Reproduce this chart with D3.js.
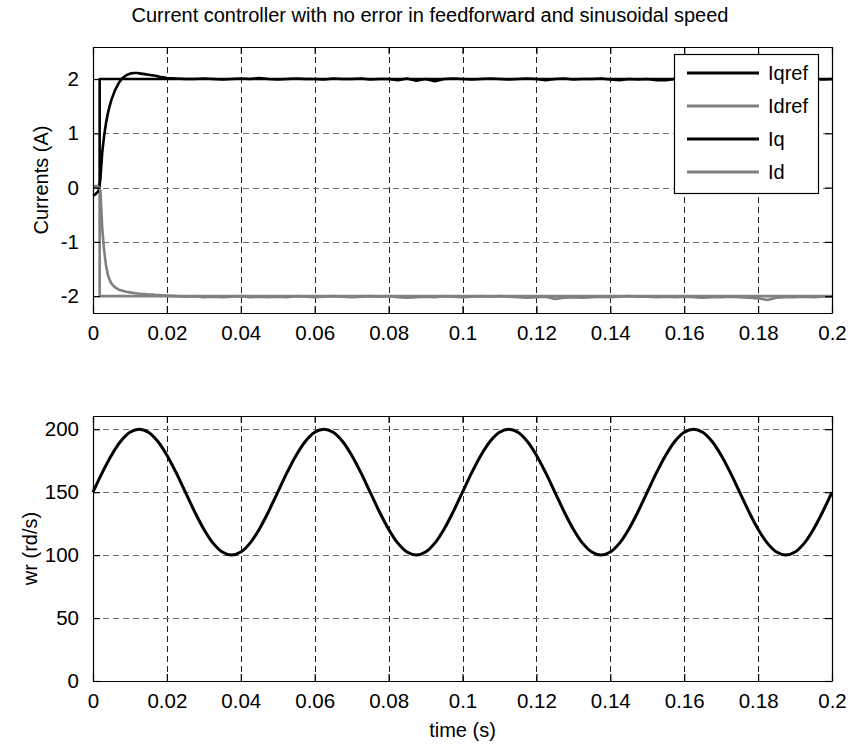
<!DOCTYPE html>
<html>
<head>
<meta charset="utf-8">
<script src="https://cdn.jsdelivr.net/npm/d3@7"></script>
<style>
  html, body { margin: 0; padding: 0; background: #fff; }
  svg { display: block; }
  text { font-family: "Liberation Sans", Arial, Helvetica, sans-serif; fill: #000; }
</style>
</head>
<body>
<svg id="chart" width="852" height="745"></svg>
<script>
// ---------------- DATA ----------------
const titleText = "Current controller with no error in feedforward and sinusoidal speed";
const xTicks = [0, 0.02, 0.04, 0.06, 0.08, 0.1, 0.12, 0.14, 0.16, 0.18, 0.2];
const xTickLabels = ["0", "0.02", "0.04", "0.06", "0.08", "0.1", "0.12", "0.14", "0.16", "0.18", "0.2"];
const yTicksTop = [-2, -1, 0, 1, 2];
const yTickLabelsTop = ["-2", "-1", "0", "1", "2"];
const yTicksBottom = [0, 50, 100, 150, 200];
const yTickLabelsBottom = ["0", "50", "100", "150", "200"];
const legendLabels = ["Iqref", "Idref", "Iq", "Id"];

// reference steps
const timeRef = [0, 0.0018, 0.0018, 0.2];
const iqref = [0, 0, 2, 2];
const idref = [0, 0, -2, -2];

// measured currents
const timeI = [0, 0.0005, 0.001, 0.0015, 0.002, 0.0025, 0.003, 0.0035, 0.004, 0.0045, 0.005,
  0.006, 0.007, 0.008, 0.009, 0.010, 0.011, 0.012, 0.013, 0.014, 0.015, 0.016, 0.017, 0.018, 0.019, 0.020,
  0.0225, 0.025, 0.0275, 0.03, 0.0325, 0.035, 0.0375, 0.04, 0.0425, 0.045, 0.0475, 0.05,
  0.0525, 0.055, 0.0575, 0.06, 0.0625, 0.065, 0.0675, 0.07, 0.0725, 0.075, 0.0775, 0.08,
  0.0825, 0.085, 0.0875, 0.09, 0.0925, 0.095, 0.0975, 0.1, 0.1025, 0.105, 0.1075, 0.11,
  0.1125, 0.115, 0.1175, 0.12, 0.1225, 0.125, 0.1275, 0.13, 0.1325, 0.135, 0.1375, 0.14,
  0.1425, 0.145, 0.1475, 0.15, 0.1525, 0.155, 0.1575, 0.16, 0.1625, 0.165, 0.1675, 0.17,
  0.1725, 0.175, 0.1775, 0.18, 0.1825, 0.185, 0.1875, 0.19, 0.1925, 0.195, 0.1975, 0.2];
const iq = [-0.15, -0.13, -0.10, -0.06, 0.15, 0.65, 0.95, 1.18, 1.36, 1.50, 1.62,
  1.80, 1.93, 2.02, 2.07, 2.10, 2.11, 2.11, 2.10, 2.09, 2.08, 2.07, 2.06, 2.04, 2.03, 2.02,
  2.01, 2.00, 2.00, 2.01, 2.00, 1.99, 2.00, 2.01, 2.00, 2.02, 2.00, 1.99,
  2.00, 2.01, 2.00, 2.00, 1.99, 2.01, 2.00, 2.00, 2.01, 1.99, 2.00, 2.00,
  1.98, 2.01, 1.97, 2.00, 1.96, 2.00, 2.01, 2.00, 1.99, 2.00, 2.01, 2.00,
  1.99, 2.00, 2.01, 2.00, 1.98, 2.00, 2.01, 1.99, 2.00, 2.00, 2.01, 1.99,
  1.98, 2.00, 1.99, 2.00, 1.98, 1.98, 2.00, 2.01, 2.00, 1.99, 2.00, 2.01,
  2.00, 1.99, 2.00, 2.00, 2.01, 1.99, 2.00, 2.00, 2.01, 2.00, 1.99, 2.00];
const id = [0.02, 0.03, 0.03, 0.02, -0.05, -0.75, -1.15, -1.42, -1.60, -1.70, -1.77,
  -1.84, -1.88, -1.90, -1.92, -1.93, -1.94, -1.95, -1.96, -1.96, -1.97, -1.97, -1.98, -1.98, -1.99, -1.99,
  -2.00, -2.01, -2.00, -2.02, -2.01, -2.02, -2.01, -2.00, -2.02, -2.01, -2.02, -2.01,
  -2.02, -2.00, -2.01, -2.02, -2.01, -2.00, -2.01, -2.02, -2.01, -2.00, -2.01, -2.00,
  -2.02, -2.03, -2.02, -2.01, -2.02, -2.00, -2.01, -2.02, -2.01, -2.00, -2.01, -2.00,
  -2.01, -2.02, -2.03, -2.02, -2.01, -2.05, -2.03, -2.02, -2.03, -2.02, -2.01, -2.02,
  -2.01, -2.00, -2.01, -2.01, -2.02, -2.01, -2.02, -2.01, -2.02, -2.03, -2.02, -2.02,
  -2.01, -2.02, -2.03, -2.04, -2.07, -2.03, -2.02, -2.02, -2.01, -2.02, -2.01, -2.01];

// rotor speed
const timeW = [0, 0.0025, 0.005, 0.0075, 0.01, 0.0125, 0.015, 0.0175, 0.02, 0.0225,
  0.025, 0.0275, 0.03, 0.0325, 0.035, 0.0375, 0.04, 0.0425, 0.045, 0.0475,
  0.05, 0.0525, 0.055, 0.0575, 0.06, 0.0625, 0.065, 0.0675, 0.07, 0.0725,
  0.075, 0.0775, 0.08, 0.0825, 0.085, 0.0875, 0.09, 0.0925, 0.095, 0.0975,
  0.1, 0.1025, 0.105, 0.1075, 0.11, 0.1125, 0.115, 0.1175, 0.12, 0.1225,
  0.125, 0.1275, 0.13, 0.1325, 0.135, 0.1375, 0.14, 0.1425, 0.145, 0.1475,
  0.15, 0.1525, 0.155, 0.1575, 0.16, 0.1625, 0.165, 0.1675, 0.17, 0.1725,
  0.175, 0.1775, 0.18, 0.1825, 0.185, 0.1875, 0.19, 0.1925, 0.195, 0.1975, 0.2];
const wr = [150, 165.5, 179.4, 190.5, 197.6, 200, 197.6, 190.5, 179.4, 165.5,
  150, 134.5, 120.6, 109.5, 102.4, 100, 102.4, 109.5, 120.6, 134.5,
  150, 165.5, 179.4, 190.5, 197.6, 200, 197.6, 190.5, 179.4, 165.5,
  150, 134.5, 120.6, 109.5, 102.4, 100, 102.4, 109.5, 120.6, 134.5,
  150, 165.5, 179.4, 190.5, 197.6, 200, 197.6, 190.5, 179.4, 165.5,
  150, 134.5, 120.6, 109.5, 102.4, 100, 102.4, 109.5, 120.6, 134.5,
  150, 165.5, 179.4, 190.5, 197.6, 200, 197.6, 190.5, 179.4, 165.5,
  150, 134.5, 120.6, 109.5, 102.4, 100, 102.4, 109.5, 120.6, 134.5, 150];

// ---------------- DRAW ----------------
const svg = d3.select("#chart");
const L = 93, R = 832;
const panels = [
  { top: 47, bottom: 313, domain: [-2.31, 2.59], ticks: yTicksTop, tickLabels: yTickLabelsTop, label: "Currents (A)", labelX: 48 },
  { top: 416, bottom: 681, domain: [0, 210.5], ticks: yTicksBottom, tickLabels: yTickLabelsBottom, label: "wr (rd/s)", labelX: 37 }
];
const x = d3.scaleLinear().domain([0, 0.2]).range([L, R]);
const fmtX = d => xTickLabels[xTicks.indexOf(d)];

panels.forEach(p => {
  p.y = d3.scaleLinear().domain(p.domain).range([p.bottom, p.top]);
  const g = svg.append("g");
  p.g = g;
  g.append("g").selectAll("line").data(xTicks.filter(t => t > 0 && t < 0.2)).join("line")
    .attr("x1", d => Math.round(x(d)) + 0.5).attr("x2", d => Math.round(x(d)) + 0.5)
    .attr("y1", p.top).attr("y2", p.bottom)
    .attr("stroke", "#222").attr("stroke-width", 1).attr("stroke-dasharray", "6,4");
  g.append("g").selectAll("line").data(p.ticks.filter(t => p.y(t) > p.top + 1 && p.y(t) < p.bottom - 1)).join("line")
    .attr("x1", L).attr("x2", R)
    .attr("y1", d => Math.round(p.y(d)) + 0.5).attr("y2", d => Math.round(p.y(d)) + 0.5)
    .attr("stroke", "#707070").attr("stroke-width", 1).attr("stroke-dasharray", "6,4");
});

function lineGen(p, curve) {
  return d3.line().x(d => x(d[0])).y(d => p.y(d[1])).curve(curve || d3.curveLinear);
}
const zip = (a, b) => a.map((v, i) => [v, b[i]]);

const grayC = "#808080";
const P0 = panels[0], P1 = panels[1];
const series = [
  { t: timeRef, v: iqref, color: "#000" },
  { t: timeRef, v: idref, color: grayC },
  { t: timeI, v: iq, color: "#000" },
  { t: timeI, v: id, color: grayC }
];
series.forEach(s => {
  P0.g.append("path").datum(zip(s.t, s.v)).attr("d", lineGen(P0))
    .attr("fill", "none").attr("stroke", s.color).attr("stroke-width", 2.6)
    .attr("stroke-linejoin", "round");
});
P1.g.append("path").datum(zip(timeW, wr)).attr("d", lineGen(P1, d3.curveCatmullRom))
  .attr("fill", "none").attr("stroke", "#000").attr("stroke-width", 3);

panels.forEach(p => {
  const g = p.g;
  const fmtY = d => p.tickLabels[p.ticks.indexOf(d)];
  const xAxB = d3.axisBottom(x).tickValues(xTicks).tickSizeInner(-7).tickSizeOuter(0).tickPadding(12).tickFormat(fmtX);
  const gb = g.append("g").attr("transform", `translate(0,${p.bottom})`).call(xAxB);
  const xAxT = d3.axisTop(x).tickValues(xTicks).tickSizeInner(-7).tickSizeOuter(0).tickFormat("");
  const gt = g.append("g").attr("transform", `translate(0,${p.top})`).call(xAxT);
  const yAxL = d3.axisLeft(p.y).tickValues(p.ticks).tickSizeInner(-7).tickSizeOuter(0).tickPadding(14).tickFormat(fmtY);
  const gl = g.append("g").attr("transform", `translate(${L},0)`).call(yAxL);
  const yAxR = d3.axisRight(p.y).tickValues(p.ticks).tickSizeInner(-7).tickSizeOuter(0).tickFormat("");
  const gr = g.append("g").attr("transform", `translate(${R},0)`).call(yAxR);
  [gb, gt, gl, gr].forEach(a => {
    a.select(".domain").attr("stroke", "#000").attr("stroke-width", 1.2);
    a.selectAll(".tick line").attr("stroke", "#000").attr("stroke-width", 1.2);
    a.selectAll(".tick text").attr("font-size", "20.5px").attr("font-family", "Liberation Sans, Arial, sans-serif").attr("fill", "#000");
  });
  gb.selectAll(".tick text").attr("dy", "0.71em");
  g.append("text")
    .attr("transform", `translate(${p.labelX},${(p.top + p.bottom) / 2}) rotate(-90)`)
    .attr("text-anchor", "middle").attr("font-size", "20px").text(p.label);
});

svg.append("text").attr("x", 430).attr("y", 22).attr("text-anchor", "middle")
  .attr("font-size", "20px").text(titleText);
svg.append("text").attr("x", (L + R) / 2).attr("y", 737).attr("text-anchor", "middle")
  .attr("font-size", "20px").text("time (s)");

const lg = svg.append("g");
lg.append("rect").attr("x", 674.5).attr("y", 54.5).attr("width", 144).attr("height", 139)
  .attr("fill", "#fff").attr("stroke", "#000").attr("stroke-width", 1.2);
const rowY = d3.scalePoint().domain(legendLabels).range([73, 172]);
legendLabels.forEach((lab, i) => {
  const yy = rowY(lab);
  lg.append("line").attr("x1", 687).attr("x2", 759).attr("y1", yy).attr("y2", yy)
    .attr("stroke", series[i].color).attr("stroke-width", 3);
  lg.append("text").attr("x", 768).attr("y", yy + 7).attr("font-size", "20px").text(lab);
});
</script>
</body>
</html>
